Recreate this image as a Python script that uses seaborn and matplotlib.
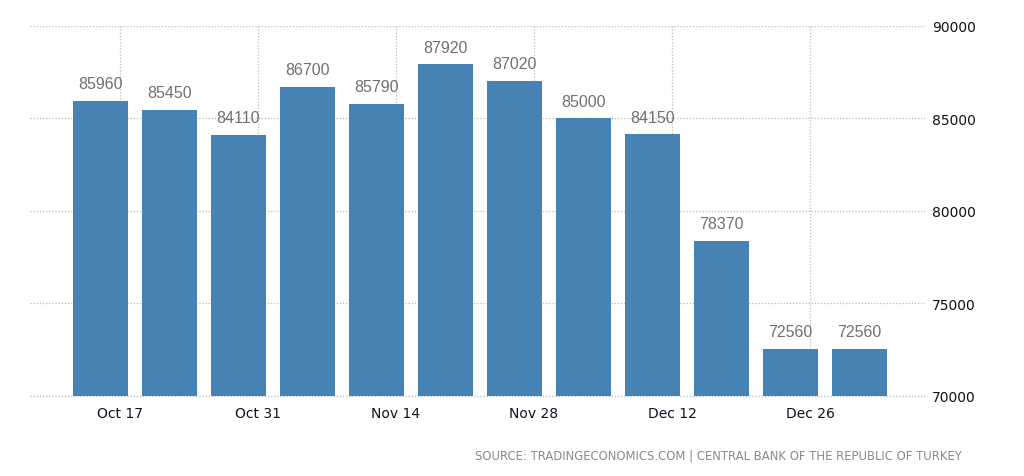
import matplotlib
matplotlib.use("Agg")
import matplotlib.pyplot as plt
import matplotlib.dates as mdates
import seaborn as sns
import pandas as pd
import datetime as dt

dates = ["2016-10-15", "2016-10-22", "2016-10-29", "2016-11-05", "2016-11-12", "2016-11-19",
         "2016-11-26", "2016-12-03", "2016-12-10", "2016-12-17", "2016-12-24", "2016-12-31"]
values = [85960, 85450, 84110, 86700, 85790, 87920, 87020, 85000, 84150, 78370, 72560, 72560]
tick_dates = ["2016-10-17", "2016-10-31", "2016-11-14", "2016-11-28", "2016-12-12", "2016-12-26"]
tick_labels = ["Oct 17", "Oct 31", "Nov 14", "Nov 28", "Dec 12", "Dec 26"]
y_ticks = [70000, 75000, 80000, 85000, 90000]
source = "SOURCE: TRADINGECONOMICS.COM | CENTRAL BANK OF THE REPUBLIC OF TURKEY"

sns.set_theme(style="white")
plt.rcParams["font.family"] = ["DejaVu Sans"]

xnum = [mdates.date2num(dt.date.fromisoformat(d)) for d in dates]
df = pd.DataFrame({"x": xnum, "v": values})

fig = plt.figure(figsize=(10.24, 4.77), dpi=100)
ax = fig.add_axes([30 / 1024, 1 - 397 / 477, (925 - 30) / 1024, (397 - 27) / 477])

sns.barplot(data=df, x="x", y="v", native_scale=True, color="#4682B4",
            saturation=1, width=0.8, ax=ax, zorder=2, edgecolor="none")

tnum = [mdates.date2num(dt.date.fromisoformat(d)) for d in tick_dates]
ref = tnum[0]
px_per_day = 138 / 14.0
ax.set_xlim(ref - (120 - 30) / px_per_day, ref + (925 - 120) / px_per_day)
ax.set_ylim(70000, 90000)

ax.set_xticks(tnum)
ax.set_xticklabels(tick_labels, fontsize=10, color="#111122")
ax.set_yticks(y_ticks)
ax.yaxis.tick_right()
ax.set_yticklabels([str(v) for v in y_ticks], fontsize=10, color="#111111")
ax.tick_params(axis="y", length=0, pad=5)
ax.tick_params(axis="x", length=4, color="#cccccc", width=1, pad=3, direction="out")
ax.set_xlabel("")
ax.set_ylabel("")

ax.grid(True, axis="both", linestyle=(0, (1, 1.5)), color="#bbbbbb", linewidth=0.9, zorder=0)
ax.axhline(70000, linestyle=(0, (1, 1.5)), color="#bbbbbb", linewidth=0.9, zorder=1, clip_on=False)
ax.set_axisbelow(True)
for s in ax.spines.values():
    s.set_visible(False)

for xv, v in zip(xnum, values):
    ax.annotate(str(v), (xv, v), xytext=(0, 7), textcoords="offset points",
                ha="center", va="bottom", fontsize=11.5, color="#707070",
                family=["Liberation Sans", "DejaVu Sans"], zorder=3)

fig.text(962 / 1024, 1 - 456 / 477, source, ha="right", va="center",
         fontsize=8.4, color="#8a8a8a")

fig.savefig("out.png", dpi=100)
